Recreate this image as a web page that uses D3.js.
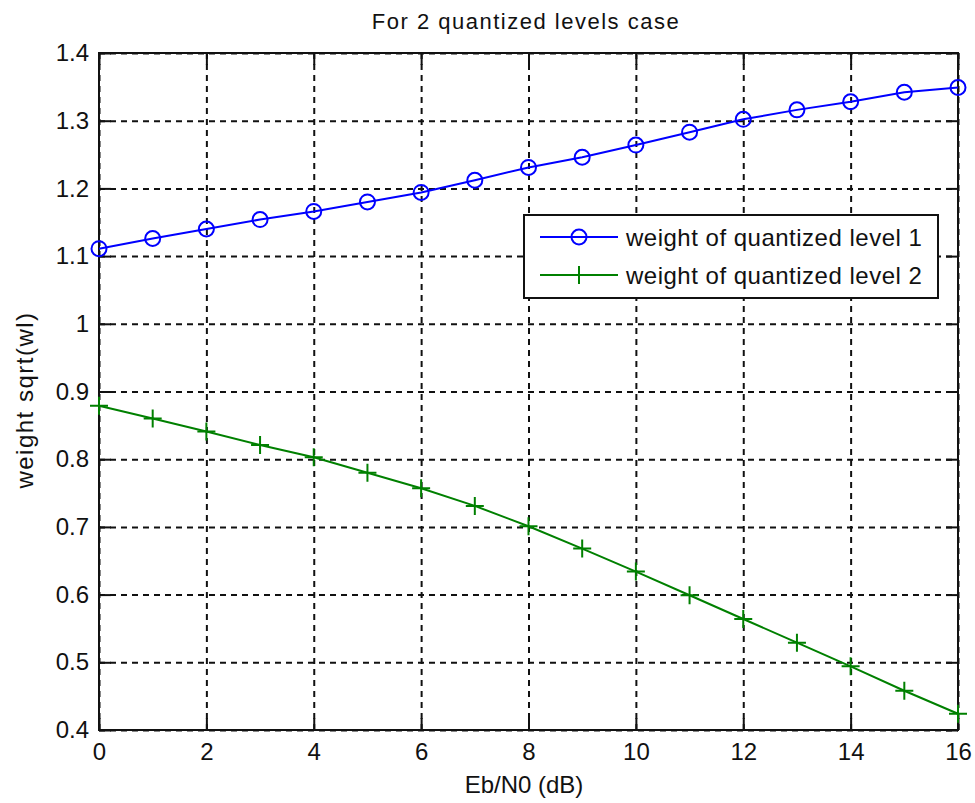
<!DOCTYPE html>
<html>
<head>
<meta charset="utf-8">
<script src="https://d3js.org/d3.v7.min.js"></script>
<style>
body { margin: 0; background: #fff; }
text { font-family: "Liberation Sans", Arial, sans-serif; fill: #111; }
.grid line { stroke: #111; stroke-width: 2; stroke-dasharray: 6,5; }
.grid path { display: none; }
.axis path { display: none; }
.axis line { stroke: #111; stroke-width: 2; }
.axis text { font-size: 24px; }
</style>
</head>
<body>
<svg width="975" height="803"></svg>
<script>
// Eb/N0 in dB
var ebn0 = [0, 1, 2, 3, 4, 5, 6, 7, 8, 9, 10, 11, 12, 13, 14, 15, 16];
var level1 = [1.111, 1.126, 1.140, 1.154, 1.166, 1.180, 1.194, 1.212, 1.231, 1.246, 1.264, 1.283, 1.302, 1.316, 1.328, 1.342, 1.349];
var level2 = [0.879, 0.860, 0.841, 0.821, 0.803, 0.780, 0.757, 0.731, 0.701, 0.668, 0.634, 0.599, 0.564, 0.529, 0.494, 0.458, 0.424];
var xTicks = [0, 2, 4, 6, 8, 10, 12, 14, 16];
var yTicks = [0.4, 0.5, 0.6, 0.7, 0.8, 0.9, 1.0, 1.1, 1.2, 1.3, 1.4];
var seriesNames = ["weight of quantized level 1", "weight of quantized level 2"];

var svg = d3.select("svg"),
    pL = 99, pR = 958, pT = 53, pB = 730;  // plot box edges

var x = d3.scaleLinear().domain([0, 16]).range([pL, pR]);
var y = d3.scaleLinear().domain([0.4, 1.4]).range([pB, pT]);

// grid
svg.append("g").attr("class", "grid")
    .attr("transform", "translate(0," + pB + ")")
    .call(d3.axisBottom(x).tickValues(xTicks).tickSize(-(pB - pT)).tickFormat(""));
svg.append("g").attr("class", "grid")
    .attr("transform", "translate(" + pL + ",0)")
    .call(d3.axisLeft(y).tickValues(yTicks).tickSize(-(pR - pL)).tickFormat(""));

// axes, ticks pointing inward on all four sides
svg.append("g").attr("class", "axis")
    .attr("transform", "translate(0," + pB + ")")
    .call(d3.axisBottom(x).tickValues(xTicks).tickSize(-12).tickPadding(13));
svg.append("g").attr("class", "axis")
    .attr("transform", "translate(0," + pT + ")")
    .call(d3.axisTop(x).tickValues(xTicks).tickSize(-12).tickFormat(""));
svg.append("g").attr("class", "axis")
    .attr("transform", "translate(" + pL + ",0)")
    .call(d3.axisLeft(y).tickValues(yTicks).tickSize(-12).tickPadding(10).tickFormat(d3.format("~g")));
svg.append("g").attr("class", "axis")
    .attr("transform", "translate(" + pR + ",0)")
    .call(d3.axisRight(y).tickValues(yTicks).tickSize(-12).tickFormat(""));

svg.selectAll(".axis text").attr("fill", "#111");

svg.append("rect")
    .attr("x", pL).attr("y", pT)
    .attr("width", pR - pL).attr("height", pB - pT)
    .attr("fill", "none").attr("stroke", "#111").attr("stroke-width", 2);

var line = d3.line().x(function(d, i) { return x(ebn0[i]); }).y(function(d) { return y(d); });

// series 1 - blue circles
svg.append("path").datum(level1)
    .attr("d", line).attr("fill", "none").attr("stroke", "#0000ff").attr("stroke-width", 2);
svg.selectAll(".c1").data(level1).enter().append("circle")
    .attr("cx", function(d, i) { return x(ebn0[i]); })
    .attr("cy", function(d) { return y(d); })
    .attr("r", 7.5)
    .attr("fill", "none").attr("stroke", "#0000ff").attr("stroke-width", 2);

// series 2 - green plus
var plus = "M-9,0H9M0,-9V9";
svg.append("path").datum(level2)
    .attr("d", line).attr("fill", "none").attr("stroke", "#008000").attr("stroke-width", 2);
svg.selectAll(".p2").data(level2).enter().append("path")
    .attr("transform", function(d, i) { return "translate(" + x(ebn0[i]) + "," + y(d) + ")"; })
    .attr("d", plus)
    .attr("fill", "none").attr("stroke", "#008000").attr("stroke-width", 2);

// legend
var lg = svg.append("g");
lg.append("rect").attr("x", 524).attr("y", 215).attr("width", 414).attr("height", 83)
    .attr("fill", "#fff").attr("stroke", "#111").attr("stroke-width", 2);
var rows = [237, 275], colors = ["#0000ff", "#008000"];
rows.forEach(function(ry, i) {
  lg.append("line").attr("x1", 540).attr("x2", 618).attr("y1", ry).attr("y2", ry)
      .attr("stroke", colors[i]).attr("stroke-width", 2);
  if (i === 0) {
    lg.append("circle").attr("cx", 579).attr("cy", ry).attr("r", 7.5)
        .attr("fill", "none").attr("stroke", colors[i]).attr("stroke-width", 2);
  } else {
    lg.append("path").attr("transform", "translate(579," + ry + ")").attr("d", plus)
        .attr("stroke", colors[i]).attr("stroke-width", 2);
  }
  lg.append("text").attr("x", 626).attr("y", ry + 9)
      .attr("font-size", 24).attr("letter-spacing", 0.5)
      .text(seriesNames[i]);
});

// labels
svg.append("text").attr("x", 526).attr("y", 29).attr("text-anchor", "middle")
    .attr("font-size", 22).attr("letter-spacing", 1.5)
    .text("For 2 quantized levels case");
svg.append("text").attr("x", 524).attr("y", 793).attr("text-anchor", "middle")
    .attr("font-size", 24)
    .text("Eb/N0 (dB)");
svg.append("text").attr("transform", "translate(33,400) rotate(-90)").attr("text-anchor", "middle")
    .attr("font-size", 24).attr("letter-spacing", 1.5)
    .text("weight sqrt(wl)");
</script>
</body>
</html>
